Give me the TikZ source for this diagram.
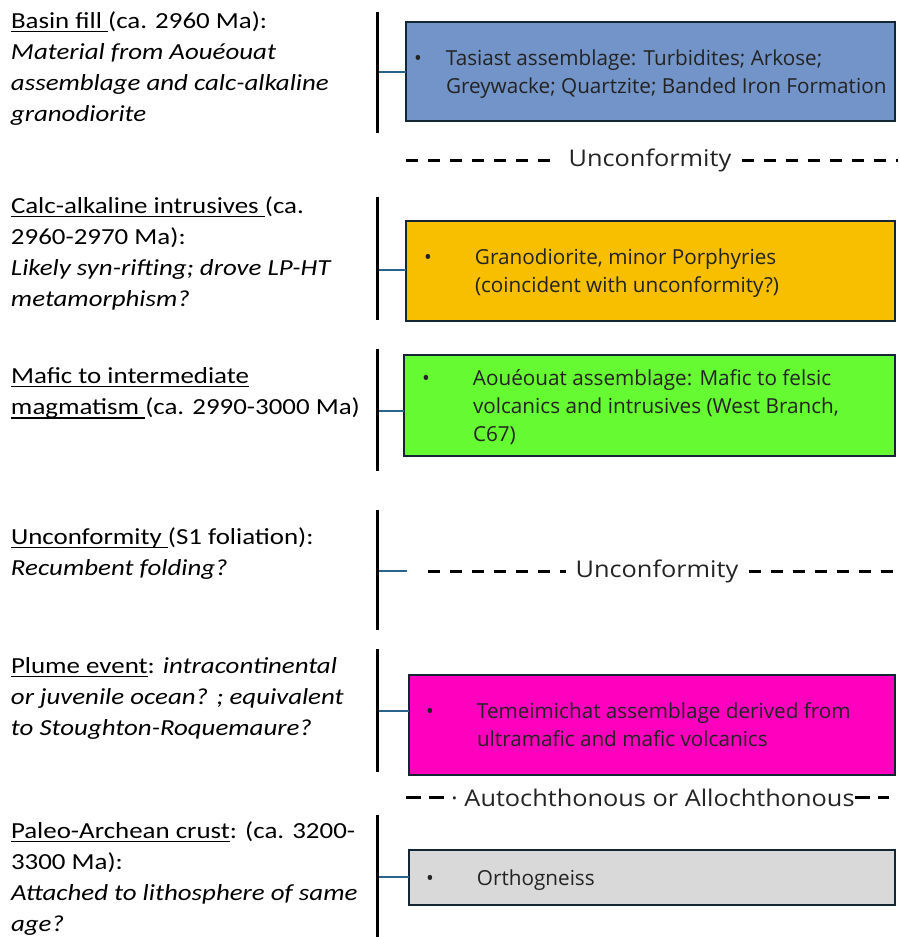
\documentclass[tikz,border=0pt]{standalone}
\usepackage{fontspec}
\setmainfont{Carlito}[FakeStretch=1.17]
\newfontfamily\boxfont{Open Sans}
\newfontfamily\uncfont{Open Sans}[FakeStretch=1.1]
\definecolor{blueFill}{RGB}{114,148,200}
\definecolor{orangeFill}{RGB}{248,190,0}
\definecolor{greenFill}{RGB}{102,250,50}
\definecolor{magentaFill}{RGB}{255,0,191}
\definecolor{grayFill}{RGB}{217,217,217}
\definecolor{boxLine}{RGB}{20,38,52}
\definecolor{tickBlue}{RGB}{40,100,140}
\definecolor{textDark}{RGB}{35,35,35}
\newsavebox\ulbox
\newcommand\ulx[1]{\sbox\ulbox{#1}\rlap{\rule[-4.2pt]{\wd\ulbox}{1.3pt}}\usebox\ulbox}
% #1 box width, #2 bullet centre offset, #3 text offset, #4 rows
\newcommand\laytext[4]{\makebox[#1][l]{\raisebox{-2pt}[\height][\depth]{\begin{tabular}{@{}l@{}l@{}}\makebox[#3][l]{\hspace*{#2}\makebox[0pt]{\textbullet}}&#4\end{tabular}}}}
\begin{document}
\begin{tikzpicture}[x=1pt,y=-1pt,
  lefttext/.style={anchor=north west, inner sep=0pt, outer sep=0pt, align=left, font=\fontsize{23}{31.3}\selectfont, text=black},
  bar/.style={line width=3pt, black},
  tickline/.style={line width=2pt, tickBlue},
  layer/.style={draw=boxLine, line width=2.5pt, anchor=north west, inner sep=0pt, outer sep=0pt, font=\boxfont\fontsize{20.7}{28}\selectfont, text=textDark},
  dashline/.style={line width=3pt, black, dash pattern=on 12pt off 10pt},
  shortdash/.style={line width=3pt, black, dash pattern=on 15pt off 8pt},
  unctext/.style={inner xsep=10pt, inner ysep=0pt, font=\uncfont\fontsize{23}{26}\selectfont, text=textDark}
]
\useasboundingbox (0,0) rectangle (898,937);

% left descriptions (top = first baseline - 21.9)
\node[lefttext] (d1) at (11,6.1) {\strut\ulx{Basin fill }(ca. 2960 Ma):\\\textit{Material from Aouéouat}\\\textit{assemblage and calc-alkaline}\\\textit{granodiorite}};
\node[lefttext] (d2) at (11,191.1) {\strut\ulx{Calc-alkaline intrusives }(ca.\\2960-2970 Ma):\\\textit{Likely syn-rifting; drove LP-HT}\\\textit{metamorphism?}};
\node[lefttext] (d3) at (11,361.1) {\strut\ulx{Mafic to intermediate}\\\ulx{magmatism }(ca. 2990-3000 Ma)};
\node[lefttext] (d4) at (11,522.1) {\strut\ulx{Unconformity }(S1 foliation):\\\textit{Recumbent folding?}};
\node[lefttext] (d5) at (11,651.1) {\strut\ulx{Plume event}: \textit{intracontinental}\\\textit{or juvenile ocean? ; equivalent}\\\textit{to Stoughton-Roquemaure?}};
\node[lefttext] (d6) at (11,816.1) {\strut\ulx{Paleo-Archean crust}: (ca. 3200-\\3300 Ma):\\\textit{Attached to lithosphere of same}\\\textit{age?}};

% bars
\coordinate (a1) at (377,12);  \coordinate (z1) at (377,133);
\coordinate (a2) at (377,197); \coordinate (z2) at (377,320);
\coordinate (a3) at (377,349); \coordinate (z3) at (377,471);
\coordinate (a4) at (377,510); \coordinate (z4) at (377,630);
\coordinate (a5) at (377,649); \coordinate (z5) at (377,772);
\coordinate (a6) at (377,815); \coordinate (z6) at (377,940);
\foreach \i in {1,...,6} {\draw[bar] (a\i) -- (z\i);}

% boxes
\node[layer, fill=blueFill, minimum width=489pt, minimum height=99pt] (b1) at (406,22)
  {\laytext{489pt}{12pt}{40pt}{Tasiast assemblage: Turbidites; Arkose;\\&Greywacke; Quartzite; Banded Iron Formation}};
\node[layer, fill=orangeFill, minimum width=489pt, minimum height=100pt] (b2) at (406,221)
  {\laytext{489pt}{22pt}{69pt}{Granodiorite, minor Porphyries\\&(coincident with unconformity?)}};
\node[layer, fill=greenFill, minimum width=491pt, minimum height=101pt] (b3) at (404,355)
  {\laytext{491pt}{22pt}{69pt}{Aouéouat assemblage: Mafic to felsic\\&volcanics and intrusives (West Branch,\\&C67)}};
\node[layer, fill=magentaFill, minimum width=486pt, minimum height=100pt] (b5) at (409,675)
  {\laytext{486pt}{21pt}{68pt}{Temeimichat assemblage derived from\\&ultramafic and mafic volcanics}};
\node[layer, fill=grayFill, minimum width=486pt, minimum height=55pt] (b6) at (409,850)
  {\laytext{486pt}{21pt}{68pt}{Orthogneiss}};

% ticks
\coordinate (t1) at (378.5,72);
\coordinate (t2) at (378.5,270);
\coordinate (t3) at (378.5,411);
\coordinate (t4) at (378.5,571);
\coordinate (t4e) at (407,571);
\coordinate (t5) at (378.5,711);
\coordinate (t6) at (378.5,877);
\draw[tickline] (t1) -- (t1 -| b1.west);
\draw[tickline] (t2) -- (t2 -| b2.west);
\draw[tickline] (t3) -- (t3 -| b3.west);
\draw[tickline] (t4) -- (t4e);
\draw[tickline] (t5) -- (t5 -| b5.west);
\draw[tickline] (t6) -- (t6 -| b6.west);

% unconformity lines
\node[unctext] (u1) at (650,160) {Unconformity};
\coordinate (u1l) at (406,160); \coordinate (u1r) at (898,160);
\draw[dashline] (u1l) -- (u1.west);
\draw[dashline] (u1.east) -- (u1r);

\node[unctext] (u2) at (657,571) {Unconformity};
\coordinate (u2l) at (428,571); \coordinate (u2r) at (898,571);
\draw[dashline] (u2l) -- (u2.west);
\draw[dashline] (u2.east) -- (u2r);

% autochthonous / allochthonous line
\node[unctext, inner xsep=0pt, anchor=west] (u3) at (451,798) {· Autochthonous or Allochthonous};
\coordinate (u3l) at (406,797); \coordinate (u3lend) at (445,797);
\coordinate (u3rend) at (889,797);
\draw[shortdash] (u3l) -- (u3lend);
\draw[shortdash] (u3.east |- u3rend) -- (u3rend);
\end{tikzpicture}
\end{document}
